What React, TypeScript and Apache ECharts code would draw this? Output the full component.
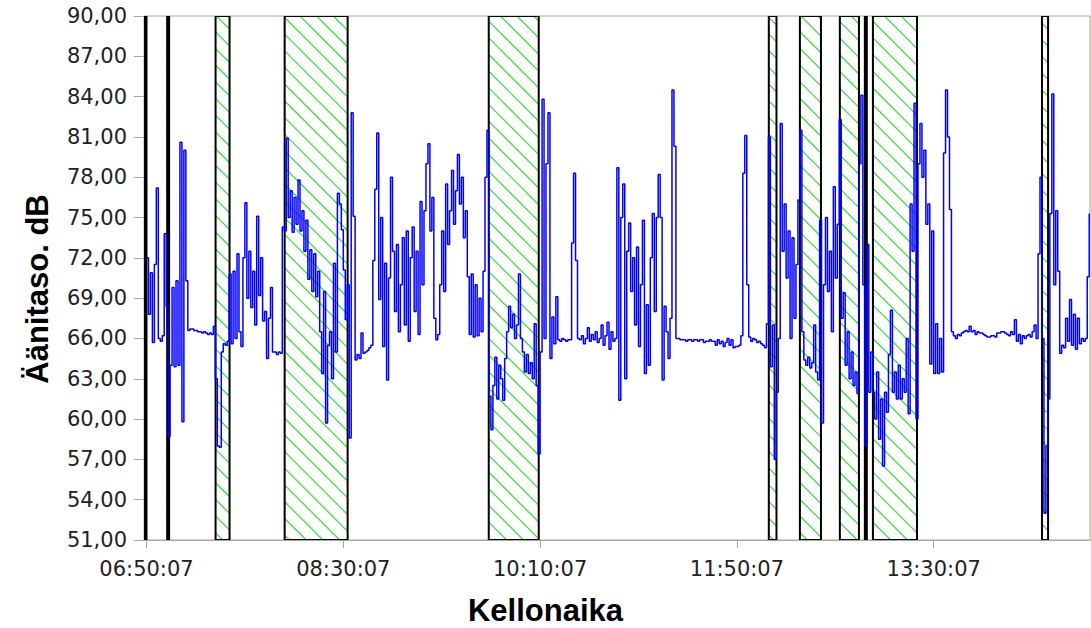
import React, { useEffect, useRef } from "react";
import * as echarts from "echarts";

// ---- data ----
const startTime = "06:50:07";
const sampleStepSeconds = 60;
// sound level (dB), one value per minute starting at startTime
const levels: number[] = [
  72.0, 67.8, 70.9, 65.7, 71.5, 77.2, 66.0, 65.8, 66.2, 73.8,
  68.4, 58.7, 64.0, 69.8, 63.9, 70.3, 64.0, 80.6, 59.8, 80.0,
  70.3, 66.6, 66.7, 66.7, 66.6, 66.6, 66.5, 66.5, 66.4, 66.5,
  66.4, 66.3, 66.4, 66.3, 66.9, 63.0, 58.0, 57.9, 65.0, 65.6,
  65.5, 65.8, 70.8, 65.6, 71.0, 66.0, 72.3, 66.5, 65.4, 72.0,
  76.1, 69.0, 72.5, 68.3, 71.0, 67.0, 75.1, 69.2, 72.0, 67.3,
  68.0, 64.5, 67.5, 69.8, 65.0, 65.0, 64.8, 65.0, 64.9, 74.3,
  74.0, 80.9, 75.0, 77.0, 73.9, 76.5, 74.5, 77.8, 74.0, 75.5,
  72.5, 74.8, 70.4, 72.6, 69.5, 72.3, 69.1, 71.0, 66.5, 63.4,
  69.5, 59.7, 65.5, 66.5, 63.0, 71.6, 65.0, 76.8, 76.0, 74.1,
  71.1, 67.4, 70.0, 58.6, 82.8, 75.1, 64.4, 64.8, 64.5, 66.4,
  64.9, 65.0, 65.1, 65.3, 65.5, 71.8, 77.1, 81.3, 68.9, 75.0,
  65.4, 71.6, 62.9, 70.5, 78.0, 72.5, 68.0, 73.0, 66.5, 70.0,
  73.5, 67.0, 74.0, 65.8, 72.0, 74.3, 68.0, 72.5, 66.3, 76.2,
  70.0, 75.5, 79.0, 80.5, 74.0, 76.5, 67.5, 65.9, 66.3, 70.0,
  74.0, 69.5, 77.5, 73.0, 75.5, 78.5, 74.5, 77.0, 79.7, 76.0,
  78.0, 73.5, 75.5, 70.6, 66.3, 70.8, 66.1, 70.0, 66.2, 69.0,
  66.5, 71.0, 78.0, 81.5, 61.7, 59.2, 62.5, 64.6, 61.5, 64.0,
  63.0, 61.4, 64.5, 66.5, 68.4, 66.8, 67.8, 66.0, 67.0, 70.8,
  66.0, 65.0, 63.5, 64.8, 63.4, 64.2, 63.0, 67.1, 62.5, 57.4,
  65.0, 83.8, 66.0, 79.0, 82.8, 64.5, 67.6, 65.6, 69.1, 65.9,
  65.8, 66.0, 65.9, 65.8, 65.9, 65.9, 73.1, 78.3, 71.8, 66.0,
  65.9, 66.2, 65.6, 66.0, 66.8, 65.8, 66.3, 65.9, 66.5, 65.7,
  66.0, 67.0, 65.5, 66.2, 67.2, 65.2, 66.5, 65.8, 66.0, 78.7,
  61.4, 75.0, 77.5, 63.0, 72.5, 74.6, 69.5, 72.0, 67.0, 72.8,
  65.4, 70.0, 74.8, 63.4, 68.5, 64.0, 72.0, 75.3, 68.0, 75.0,
  78.2, 75.0, 62.9, 68.4, 66.5, 64.5, 67.5, 84.5, 80.3, 66.0,
  66.0, 65.9, 65.9, 65.9, 65.8, 65.9, 65.9, 65.8, 65.9, 65.9,
  65.8, 65.9, 65.9, 65.7, 65.8, 65.8, 65.9, 65.8, 65.8, 65.5,
  65.9, 65.6, 65.8, 65.4, 65.7, 66.0, 65.5, 65.9, 65.3, 65.4,
  65.4, 65.5, 66.2, 78.3, 81.1, 70.0, 66.1, 65.8, 66.0, 65.9,
  65.7, 65.8, 65.6, 65.5, 65.3, 67.1, 81.0, 63.9, 67.0, 57.0,
  62.0, 66.0, 82.0, 72.5, 76.0, 70.5, 74.0, 66.0, 73.5, 67.5,
  71.5, 76.3, 81.5, 66.5, 64.4, 64.0, 64.6, 63.8, 64.2, 67.0,
  63.5, 62.9, 74.8, 59.7, 70.0, 75.0, 69.5, 72.5, 66.5, 77.3,
  70.5, 74.5, 82.3, 67.5, 69.4, 64.0, 66.5, 63.0, 65.0, 62.5,
  63.5, 61.9, 79.0, 84.1, 70.0, 58.0, 73.0, 62.0, 65.0, 62.0,
  60.0, 63.5, 58.5, 61.5, 56.5, 62.0, 60.5, 64.8, 68.1, 62.0,
  63.5, 61.5, 64.0, 61.5, 63.0, 62.0, 66.0, 60.4, 76.0, 72.5,
  83.5, 60.0, 79.0, 82.0, 78.0, 80.0, 74.5, 76.0, 64.1, 74.0,
  63.4, 67.1, 63.4, 66.0, 63.5, 79.8, 84.5, 81.0, 75.6, 66.5,
  66.2, 66.0, 66.3, 66.2, 66.4, 66.5, 66.6, 66.5, 66.9, 66.5,
  66.6, 66.3, 66.5, 66.4, 66.4, 66.3, 66.2, 66.1, 66.1, 66.2,
  66.2, 66.1, 66.4, 66.4, 66.5, 66.5, 66.4, 66.3, 66.2, 66.5,
  66.3, 67.4, 65.8, 66.3, 65.6, 66.2, 66.0, 66.2, 66.3, 66.1,
  66.5, 67.0, 66.0, 72.3, 78.0, 66.0, 53.0, 58.0, 61.5, 75.3,
  84.2, 70.0, 75.5, 71.0, 64.9, 65.5, 65.3, 67.5, 65.8, 68.9,
  65.5, 67.8, 65.2, 67.5, 65.6, 66.0, 65.8, 66.0, 70.6, 75.3,
];

// marked time periods (hatched)
const regionStarts = [
  "06:49:07", "07:00:37", "07:25:13", "08:00:19", "09:44:01",
  "12:06:19", "12:22:07", "12:42:25", "12:55:07", "12:59:13", "14:25:07",
];
const regionEnds = [
  "06:50:07", "07:01:37", "07:32:19", "08:32:19", "10:09:25",
  "12:10:13", "12:32:49", "12:52:07", "12:56:07", "13:21:37", "14:28:13",
];

const xTickLabels = ["06:50:07", "08:30:07", "10:10:07", "11:50:07", "13:30:07"];
const xMinTime = "06:48:51";
const xMaxTime = "14:49:31";
const yMin = 51;
const yMax = 90;
const yStep = 3;

const xTitle = "Kellonaika";
const yTitle = "Äänitaso. dB";

// ---- helpers ----
function toSec(t: string): number {
  const [h, m, s] = t.split(":").map(Number);
  return h * 3600 + m * 60 + s;
}
function pad(n: number): string {
  return (n < 10 ? "0" : "") + n;
}
function fmtTime(sec: number): string {
  const s = Math.round(sec);
  return pad(Math.floor(s / 3600)) + ":" + pad(Math.floor((s % 3600) / 60)) + ":" + pad(s % 60);
}

const GRAY = "#aaa69a";
const TITLE_FONT = "Liberation Sans";

export default function App() {
  const ref = useRef<HTMLDivElement>(null);

  useEffect(() => {
    if (!ref.current) return;
    const chart = echarts.init(ref.current, null, { renderer: "svg" });
    const t0 = toSec(startTime);
    const lineData = levels.map((v, i) => [t0 + i * sampleStepSeconds, v]);
    const regionData = regionStarts.map((s, i) => [toSec(s), toSec(regionEnds[i]), yMin]);
    const tickVals = xTickLabels.map(toSec);

    const option: any = {
      animation: false,
      backgroundColor: "#ffffff",
      grid: {
        left: 144,
        right: 1,
        top: 16,
        bottom: 88,
        show: true,
        borderColor: GRAY,
        borderWidth: 1,
        backgroundColor: "transparent",
      },
      xAxis: {
        type: "value",
        min: toSec(xMinTime),
        max: toSec(xMaxTime),
        splitLine: { show: false },
        axisLine: { show: true, lineStyle: { color: GRAY, width: 1 } },
        axisTick: { show: true, length: 8, customValues: tickVals, lineStyle: { color: GRAY } },
        axisLabel: {
          customValues: tickVals,
          formatter: (v: number) => fmtTime(v),
          fontFamily: "DejaVu Sans",
          fontSize: 21,
          color: "#222",
          margin: 18,
        },
      },
      yAxis: {
        type: "value",
        min: yMin,
        max: yMax,
        interval: yStep,
        splitLine: { show: false },
        axisLine: { show: true, lineStyle: { color: GRAY, width: 1 } },
        axisTick: { show: true, length: 10, lineStyle: { color: GRAY } },
        axisLabel: {
          formatter: (v: number) => v.toFixed(2).replace(".", ","),
          fontFamily: "DejaVu Sans",
          fontSize: 21,
          color: "#222",
          margin: 17,
        },
      },
      graphic: [
        {
          type: "text",
          x: 545.5,
          y: 610,
          style: {
            text: xTitle,
            fontFamily: TITLE_FONT,
            fontWeight: "bold",
            fontSize: 31,
            fill: "#000",
            textAlign: "center",
            textVerticalAlign: "middle",
          },
        },
        {
          type: "text",
          x: 37,
          y: 289,
          rotation: Math.PI / 2,
          style: {
            text: yTitle,
            fontFamily: TITLE_FONT,
            fontWeight: "bold",
            fontSize: 31,
            fill: "#000",
            textAlign: "center",
            textVerticalAlign: "middle",
          },
        },
      ],
      series: [
        {
          type: "custom",
          z: 1,
          clip: true,
          encode: { x: [0, 1], y: 2 },
          data: regionData,
          renderItem: (params: any, api: any) => {
            const p0 = api.coord([api.value(0), yMax]);
            const p1 = api.coord([api.value(1), yMin]);
            const x0 = p0[0], y0 = p0[1], x1 = p1[0], y1 = p1[1];
            const sp = 16.7;
            const children: any[] = [];
            const bStart = Math.floor((y0 - x1) / sp) * sp;
            for (let b = bStart; b <= y1 - x0; b += sp) {
              const xa = Math.max(x0, y0 - b);
              const xb = Math.min(x1, y1 - b);
              if (xb > xa) {
                children.push({
                  type: "line",
                  shape: { x1: xa, y1: xa + b, x2: xb, y2: xb + b },
                  style: { stroke: "#33e033", lineWidth: 1.2 },
                });
              }
            }
            children.push({
              type: "rect",
              shape: { x: x0, y: y0, width: x1 - x0, height: y1 - y0 },
              style: { fill: "none", stroke: "#000", lineWidth: 2 },
            });
            return { type: "group", children };
          },
        },
        {
          type: "line",
          z: 3,
          step: "end",
          showSymbol: false,
          data: lineData,
          lineStyle: { color: "#0000ff", width: 1.5 },
        },
      ],
    };
    chart.setOption(option);
    return () => chart.dispose();
  }, []);

  return (
    <div
      ref={ref}
      style={{ position: "fixed", left: 0, top: 0, width: 1091, height: 628, background: "#fff" }}
    />
  );
}
